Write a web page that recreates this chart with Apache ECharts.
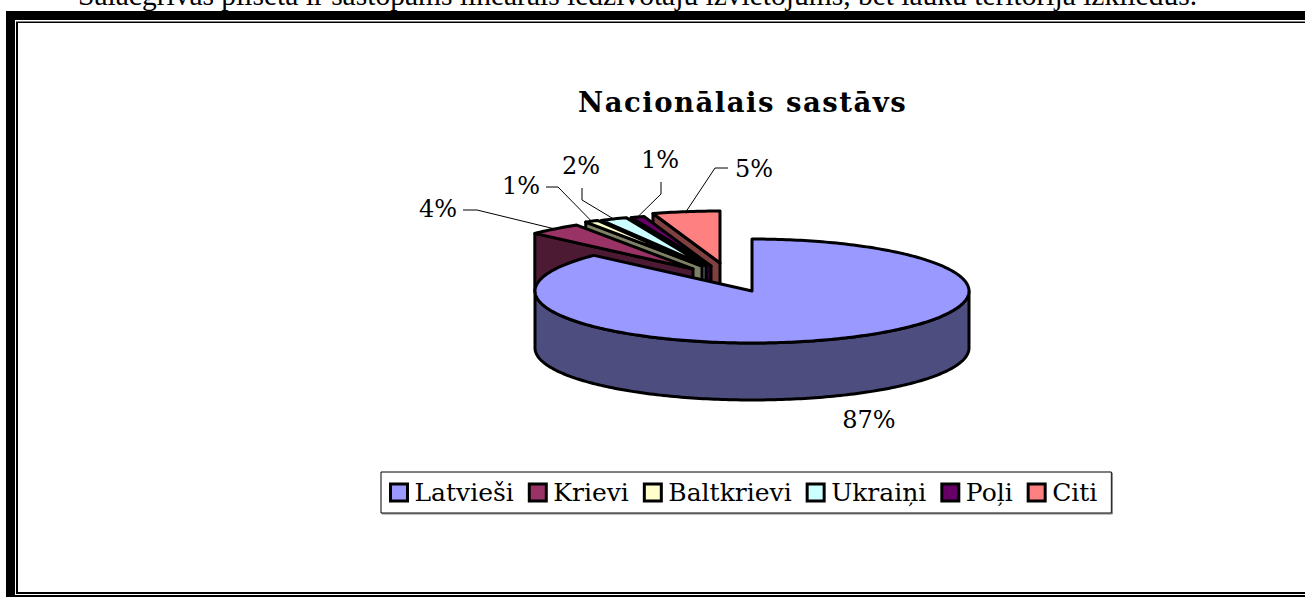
<!DOCTYPE html>
<html>
<head>
<meta charset="utf-8">
<style>html,body{margin:0;padding:0;background:#fff;overflow:hidden}#c{width:1305px;height:597px}
#c svg text[style*="bold"]{letter-spacing:1.5px}
</style>
<script src="https://cdn.jsdelivr.net/npm/echarts@6/dist/echarts.min.js"></script>
</head>
<body>
<div id="c"></div>
<script>
const categories = ['Latvieši', 'Krievi', 'Baltkrievi', 'Ukraiņi', 'Poļi', 'Citi'];
const shares = [87, 4, 1, 2, 1, 5];
const chartTitle = 'Nacionālais sastāvs';
const bodyLine = 'Salacgrīvas pilsētā ir sastopams lineārais iedzīvotāju izvietojums, bet lauku teritorijā izkliedus.';

const topColors = ['#9999FF', '#993366', '#FFFFCC', '#CCFFFF', '#660066', '#FF8080'];
const wallColors = ['#4D4D80', '#4D1A33', '#808066', '#668080', '#330033', '#804040'];

// layout of the projected pie
const pieCentre = [752, 291];
const radX = 217, radY = 52, depth = 57;
const explode = [[0, 0], [-59, -22], [-50, -25], [-46, -25], [-41, -25], [-32, -28]];
const labelPos = [[869, 420], [438, 209], [521, 186], [581, 166], [660, 160], [754, 169]];
const leaderElbows = [[], [[463, 210], [477, 210]], [[546, 187], [558, 187]], [[582, 188], [582, 200]], [[661, 182], [661, 194]], [[728, 168], [715, 168]]];

const total = shares.reduce((a, b) => a + b, 0);
const startDeg = [];
shares.reduce((acc, v, i) => { startDeg[i] = acc; return acc + v / total * 360; }, 0);

function ell(c, deg, dy) {
  const t = deg * Math.PI / 180;
  return [c[0] + radX * Math.sin(t), c[1] - radY * Math.cos(t) + (dy || 0)];
}
function arcPts(c, a, b, dy) {
  const pts = [];
  const n = Math.max(2, Math.ceil(Math.abs(b - a)));
  for (let k = 0; k <= n; k++) pts.push(ell(c, a + (b - a) * k / n, dy));
  return pts;
}
const stroke = { stroke: '#000', lineWidth: 3, lineJoin: 'round' };

function renderSlice(idx) {
  return function (params, api) {
    const val = api.value(0);
    const a = startDeg[idx], b = a + val / total * 360;
    const c = [pieCentre[0] + explode[idx][0], pieCentre[1] + explode[idx][1]];
    const kids = [];
    const poly = (pts, fill) => kids.push({ type: 'polygon', shape: { points: pts }, style: Object.assign({ fill }, stroke) });
    if (idx > 0) {
      const o = ell(c, a);
      poly([o, c, [c[0], c[1] + depth], [o[0], o[1] + depth]], wallColors[idx]);
    } else {
      const front = arcPts(c, 90, 270, 0);
      const back = arcPts(c, 270, 90, depth);
      poly(front.concat(back), wallColors[idx]);
    }
    poly([c].concat(arcPts(c, a, b, 0)), topColors[idx]);
    const lp = labelPos[idx];
    kids.push({ type: 'text', z2: 50, style: { x: lp[0], y: lp[1], text: val + '%', fill: '#000', font: '24px "DejaVu Serif"', align: 'center', verticalAlign: 'middle' } });
    if (leaderElbows[idx].length) {
      const end = ell(c, (a + b) / 2);
      kids.push({ type: 'polyline', z2: 50, shape: { points: leaderElbows[idx].concat([end]) }, style: { fill: 'none', stroke: '#000', lineWidth: 1 } });
    }
    return { type: 'group', children: kids };
  };
}

// painted from the back of the pie to the front
const paintOrder = [5, 4, 3, 2, 1, 0];
const series = categories.map((name, i) => ({
  type: 'custom',
  name,
  coordinateSystem: 'none',
  z: 2 + paintOrder.indexOf(i),
  silent: true,
  animation: false,
  itemStyle: { color: topColors[i] },
  data: [[shares[i]]],
  renderItem: renderSlice(i)
}));

const chart = echarts.init(document.getElementById('c'), null, { renderer: 'svg' });
chart.setOption({
  animation: false,
  backgroundColor: '#fff',
  title: {
    text: chartTitle, left: 578, top: 88, padding: 0,
    textStyle: { fontFamily: 'DejaVu Serif', fontWeight: 'bold', fontSize: 27.5, color: '#000' }
  },
  legend: {
    data: categories, left: 381, top: 472, orient: 'horizontal', icon: 'rect',
    itemWidth: 17, itemHeight: 17, itemGap: 14,
    padding: [8, 14, 8, 8],
    borderColor: '#000', borderWidth: 1, backgroundColor: '#fff',
    shadowColor: '#808080', shadowBlur: 0, shadowOffsetX: 1, shadowOffsetY: 1,
    itemStyle: { borderColor: '#000', borderWidth: 3 },
    textStyle: { fontFamily: 'DejaVu Serif', fontSize: 25, color: '#000', padding: [0, 0, 0, 2] },
    selectedMode: false
  },
  graphic: [
    { type: 'text', z: 0, zlevel: 0, style: { x: 78, y: -20, text: bodyLine, fill: '#000', font: '29.5px "Liberation Serif"', verticalAlign: 'top' } },
    { type: 'rect', z: 1, shape: { x: 6, y: 11, width: 1299, height: 586 }, style: { fill: '#000' } },
    { type: 'rect', z: 1, shape: { x: 15, y: 20, width: 1290, height: 575 }, style: { fill: '#fff' } },
    { type: 'rect', z: 1, shape: { x: 16, y: 21.5, width: 1289, height: 572.5 }, style: { fill: '#000' } },
    { type: 'rect', z: 1, shape: { x: 18, y: 23, width: 1287, height: 569 }, style: { fill: '#fff' } }
  ],
  series
});
</script>
</body>
</html>
